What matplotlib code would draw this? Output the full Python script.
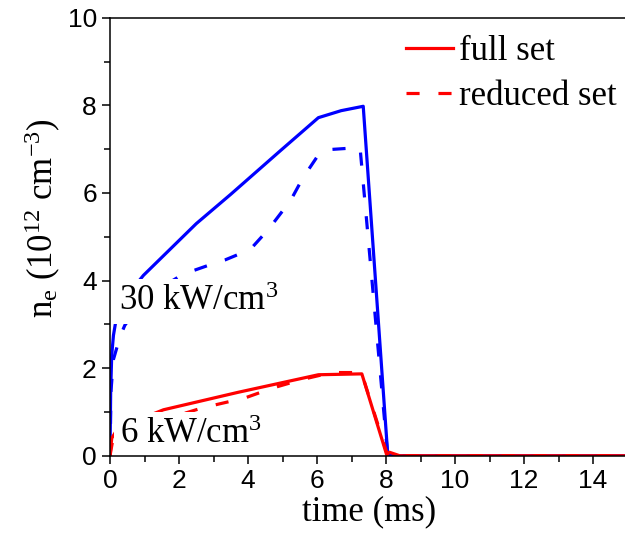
import matplotlib
matplotlib.use("Agg")
import matplotlib.pyplot as plt

plt.rcParams["font.family"] = "Liberation Serif"
plt.rcParams["mathtext.fontset"] = "custom"
plt.rcParams["mathtext.rm"] = "Liberation Serif"
plt.rcParams["mathtext.it"] = "Liberation Serif:italic"

# electron density, 30 kW/cm^3
t_30_full = [0, 0.02, 0.05, 0.1, 0.24, 0.97, 2.5, 3.5, 4.93, 6.04, 6.7, 7.34, 8.05, 8.2, 15]
ne_30_full = [0, 1.5, 2.3, 2.75, 3.41, 4.12, 5.3, 5.97, 6.96, 7.72, 7.88, 7.98, 0.03, 0.0, 0.0]

t_30_red = [0, 0.03, 0.1, 0.29, 0.43, 1.0, 1.5, 2.17, 2.46, 3.04, 3.33, 3.82, 4.1, 4.49, 4.73,
            5.07, 5.27, 5.56, 5.75, 6.04, 6.33, 6.9, 7.25, 8.05, 8.2, 15]
ne_30_red = [0, 1.5, 2.2, 2.72, 2.98, 3.6, 3.85, 4.17, 4.24, 4.40, 4.47, 4.63, 4.74, 5.08, 5.31,
             5.66, 5.88, 6.30, 6.53, 6.87, 6.99, 7.02, 7.02, 0.0, 0.0, 0.0]

# electron density, 6 kW/cm^3
t_6_full = [0, 0.05, 0.24, 1.55, 3.72, 6.04, 7.3, 8.02, 8.1, 8.4, 15]
ne_6_full = [0, 0.4, 0.64, 1.05, 1.45, 1.85, 1.87, 0.02, 0.08, 0.0, 0.0]

t_6_red = [0, 0.1, 0.3, 1.0, 2.0, 2.66, 3.91, 4.73, 5.56, 6.43, 7.29, 8.05, 8.2, 15]
ne_6_red = [0, 0.45, 0.58, 0.75, 0.93, 1.09, 1.32, 1.55, 1.74, 1.90, 1.90, 0.0, 0.0, 0.0]

fig = plt.figure(figsize=(6.25, 5.4), dpi=100)
ax = fig.add_axes([0.176, 0.156, 0.828, 0.811])

lw = 2.3
dash = (4.1, 5.9)
ax.plot(t_30_full, ne_30_full, color="blue", lw=lw)
ax.plot(t_30_red, ne_30_red, color="blue", lw=lw, dashes=dash)
ax.plot(t_6_full, ne_6_full, color="red", lw=lw, label="full set")
ax.plot(t_6_red, ne_6_red, color="red", lw=lw, dashes=dash, label="reduced set")

# white boxes behind the power labels hide the curves underneath,
# kept below the spines and clipped to the axes
box = dict(facecolor="white", edgecolor="none", pad=4.5)
ax.text(0.25, 3.33, "30 kW/cm$^3$", fontsize=25, bbox=box, zorder=2.2, clip_on=True)
ax.text(0.3, 0.29, "6 kW/cm$^3$", fontsize=25, bbox=box, zorder=2.2, clip_on=True)

ax.set_xlim(0, 15)
ax.set_ylim(0, 10)
ax.set_xticks(range(0, 15, 2))
ax.set_xticks(range(1, 15, 2), minor=True)
ax.set_yticks(range(0, 11, 2))
ax.set_yticks(range(1, 10, 2), minor=True)
ax.tick_params(which="both", direction="out", width=1.1, top=False, right=False)
ax.tick_params(which="major", length=6)
ax.tick_params(which="minor", length=4)
for lab in ax.get_xticklabels() + ax.get_yticklabels():
    lab.set_fontfamily("Liberation Sans")
    lab.set_fontsize(19)
for sp in ax.spines.values():
    sp.set_linewidth(1.1)

ax.set_xlabel("time (ms)", fontsize=25, labelpad=2)
ax.set_ylabel("n$_\\mathrm{e}$ (10$^{12}$ cm$^{-3}$)", fontsize=25)
ax.yaxis.set_label_coords(-0.09, 0.543)

ax.legend(loc="upper right", bbox_to_anchor=(1.007, 0.992), frameon=False, fontsize=25,
          handlelength=1.35, handletextpad=0.2, labelspacing=0.33, borderaxespad=0)

fig.savefig("out.png", dpi=100)
